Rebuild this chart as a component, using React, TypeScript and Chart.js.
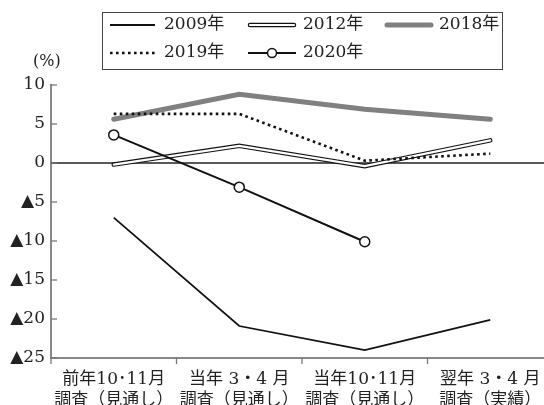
import React, { useEffect, useRef } from "react";
import { Chart, registerables } from "chart.js";

Chart.register(...registerables);

const categories: string[][] = [
  ["前年10･11月", "調査（見通し）"],
  ["当年 3・4 月", "調査（見通し）"],
  ["当年10･11月", "調査（見通し）"],
  ["翌年 3・4 月", "調査（実績）"],
];
const s2009 = [-7.0, -20.9, -24.0, -20.1];
const s2012 = [-0.2, 2.2, -0.4, 2.9];
const s2018 = [5.6, 8.8, 6.9, 5.6];
const s2019 = [6.3, 6.3, 0.3, 1.2];
const s2020 = [3.6, -3.1, -10.1, null];
const yTicks = [10, 5, 0, -5, -10, -15, -20, -25];

const SERIF = '"DejaVu Serif", "Liberation Serif", "Noto Sans CJK JP", serif';
const FONT_PX = 17;

const fmtTick = (v: number) => (v < 0 ? "▲" + Math.abs(v) : String(v));

const overlay = {
  id: "overlay",
  beforeDatasetsDraw(chart: any) {
    const { ctx, chartArea, scales } = chart;
    const y0 = scales.y.getPixelForValue(0);
    ctx.save();
    ctx.strokeStyle = "#222";
    ctx.lineWidth = 1.3;
    ctx.beginPath();
    ctx.moveTo(chartArea.left, y0);
    ctx.lineTo(chartArea.right, y0);
    ctx.stroke();
    ctx.restore();
  },
  afterDraw(chart: any) {
    const { ctx, chartArea, scales } = chart;
    ctx.save();
    ctx.strokeStyle = "#777";
    ctx.lineWidth = 1.3;
    yTicks.forEach((v) => {
      const py = scales.y.getPixelForValue(v);
      ctx.beginPath();
      ctx.moveTo(chartArea.left, py);
      ctx.lineTo(chartArea.left + 6, py);
      ctx.stroke();
    });
    const n = categories.length;
    const step = (chartArea.right - chartArea.left) / n;
    for (let i = 0; i <= n; i++) {
      const px = chartArea.left + step * i;
      ctx.beginPath();
      ctx.moveTo(px, chartArea.bottom);
      ctx.lineTo(px, chartArea.bottom + 6);
      ctx.stroke();
    }
    ctx.fillStyle = "#222";
    ctx.font = `16px ${SERIF}`;
    ctx.textAlign = "left";
    ctx.textBaseline = "middle";
    ctx.fillText("(%)", 33, 62);

    ctx.strokeStyle = "#444";
    ctx.lineWidth = 1;
    ctx.strokeRect(102.5, 12.5, 400, 57);
    const rows = [25, 53];
    const cols = [
      [110, 155, 164],
      [248, 296, 303],
      [385, 433, 439],
    ];
    const drawText = (t: string, x: number, y: number) => {
      ctx.fillStyle = "#222";
      ctx.font = `${FONT_PX}px ${SERIF}`;
      ctx.textAlign = "left";
      ctx.textBaseline = "middle";
      ctx.fillText(t, x, y);
    };
    ctx.setLineDash([]);
    ctx.strokeStyle = "#111";
    ctx.lineWidth = 2;
    ctx.beginPath();
    ctx.moveTo(cols[0][0], rows[0]);
    ctx.lineTo(cols[0][1], rows[0]);
    ctx.stroke();
    drawText("2009年", cols[0][2], rows[0]);
    ctx.lineCap = "round";
    ctx.strokeStyle = "#111";
    ctx.lineWidth = 4.5;
    ctx.beginPath();
    ctx.moveTo(cols[1][0] + 2, rows[0]);
    ctx.lineTo(cols[1][1] - 2, rows[0]);
    ctx.stroke();
    ctx.strokeStyle = "#fff";
    ctx.lineWidth = 2.2;
    ctx.beginPath();
    ctx.moveTo(cols[1][0] + 2, rows[0]);
    ctx.lineTo(cols[1][1] - 2, rows[0]);
    ctx.stroke();
    drawText("2012年", cols[1][2], rows[0]);
    ctx.strokeStyle = "#808080";
    ctx.lineWidth = 5;
    ctx.beginPath();
    ctx.moveTo(cols[2][0] + 2, rows[0]);
    ctx.lineTo(cols[2][1] - 2, rows[0]);
    ctx.stroke();
    drawText("2018年", cols[2][2], rows[0]);
    ctx.lineCap = "butt";
    ctx.strokeStyle = "#111";
    ctx.lineWidth = 2.6;
    ctx.setLineDash([2.6, 3.4]);
    ctx.beginPath();
    ctx.moveTo(cols[0][0], rows[1]);
    ctx.lineTo(cols[0][1], rows[1]);
    ctx.stroke();
    ctx.setLineDash([]);
    drawText("2019年", cols[0][2], rows[1]);
    ctx.strokeStyle = "#111";
    ctx.lineWidth = 2;
    ctx.beginPath();
    ctx.moveTo(cols[1][0], rows[1]);
    ctx.lineTo(cols[1][1], rows[1]);
    ctx.stroke();
    ctx.fillStyle = "#fff";
    ctx.lineWidth = 1.5;
    ctx.beginPath();
    ctx.arc((cols[1][0] + cols[1][1]) / 2, rows[1], 4.5, 0, Math.PI * 2);
    ctx.fill();
    ctx.stroke();
    drawText("2020年", cols[1][2], rows[1]);
    ctx.restore();
  },
};

export default function App() {
  const ref = useRef<HTMLCanvasElement | null>(null);
  useEffect(() => {
    document.body.style.margin = "0";
    document.body.style.overflow = "hidden";
    const canvas = ref.current!;
    const chart = new Chart(canvas, {
      type: "line",
      data: {
        labels: categories,
        datasets: [
          {
            label: "2020年",
            data: s2020,
            borderColor: "#111",
            borderWidth: 2,
            pointRadius: 5,
            pointBackgroundColor: "#fff",
            pointBorderColor: "#111",
            pointBorderWidth: 1.5,
            tension: 0,
            order: 1,
          },
          {
            label: "2009年",
            data: s2009,
            borderColor: "#111",
            borderWidth: 1.8,
            pointRadius: 0,
            tension: 0,
            order: 2,
          },
          {
            label: "2019年",
            data: s2019,
            borderColor: "#111",
            borderWidth: 2.6,
            borderDash: [2.6, 3.4],
            pointRadius: 0,
            tension: 0,
            order: 3,
          },
          {
            label: "2012年 inner",
            data: s2012,
            borderColor: "#fff",
            borderWidth: 2.2,
            pointRadius: 0,
            tension: 0,
            borderCapStyle: "round",
            borderJoinStyle: "miter",
            order: 4,
          },
          {
            label: "2012年",
            data: s2012,
            borderColor: "#111",
            borderWidth: 4.5,
            pointRadius: 0,
            tension: 0,
            borderCapStyle: "round",
            borderJoinStyle: "miter",
            order: 5,
          },
          {
            label: "2018年",
            data: s2018,
            borderColor: "#808080",
            borderWidth: 5,
            pointRadius: 0,
            tension: 0,
            borderCapStyle: "round",
            order: 6,
          },
        ],
      },
      options: {
        responsive: false,
        animation: false,
        layout: { padding: { top: 85, right: 7, left: 0, bottom: 0 } },
        plugins: { legend: { display: false }, tooltip: { enabled: false } },
        scales: {
          x: {
            offset: true,
            grid: { display: false, drawTicks: false },
            border: { display: true, color: "#888", width: 2 },
            ticks: {
              color: "#222",
              font: { family: SERIF, size: FONT_PX, lineHeight: 1.22 },
              padding: 11,
              maxRotation: 0,
              autoSkip: false,
            },
            afterFit(scale: any) {
              scale.height = 47;
            },
          },
          y: {
            min: -25,
            max: 10,
            afterBuildTicks(scale: any) {
              scale.ticks = yTicks.map((v) => ({ value: v }));
            },
            grid: { display: false, drawTicks: false },
            border: { display: true, color: "#888", width: 2 },
            ticks: {
              color: "#222",
              font: { family: SERIF, size: FONT_PX },
              padding: 6,
              callback: (v: any) => fmtTick(Number(v)),
            },
            afterFit(scale: any) {
              scale.width = 51;
            },
          },
        },
      },
      plugins: [overlay],
    });
    return () => chart.destroy();
  }, []);
  return (
    <div style={{ width: 560, height: 405 }}>
      <canvas ref={ref} width={560} height={405} />
    </div>
  );
}
